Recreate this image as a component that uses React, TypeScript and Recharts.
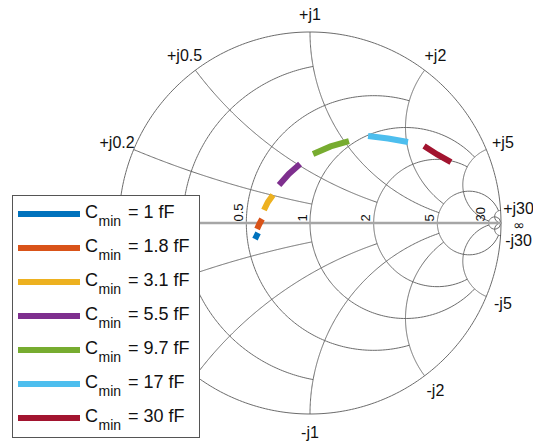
import { ComposedChart, Legend, Line, Scatter, XAxis, YAxis } from "recharts";

// legend values and colours (MATLAB default order)
const C_MIN = ["1", "1.8", "3.1", "5.5", "9.7", "17", "30"];
const COLORS = ["#0072BD", "#D95319", "#EDB120", "#7E2F8E", "#77AC30", "#4DBEEE", "#A2142F"];

// reflection coefficient (Re, Im): start, middle, end
const TRACE_1 = [[-0.288, -0.084], [-0.28, -0.068], [-0.272, -0.052]];
const TRACE_1_8 = [[-0.277, -0.031], [-0.265, -0.005], [-0.251, 0.021]];
const TRACE_3_1 = [[-0.241, 0.068], [-0.221, 0.109], [-0.194, 0.147]];
const TRACE_5_5 = [[-0.162, 0.199], [-0.111, 0.257], [-0.052, 0.309]];
const TRACE_9_7 = [[0.016, 0.361], [0.108, 0.401], [0.204, 0.429]];
const TRACE_17 = [[0.304, 0.455], [0.409, 0.442], [0.513, 0.424]];
const TRACE_30 = [[0.597, 0.403], [0.666, 0.359], [0.738, 0.319]];
const TRACES = [TRACE_1, TRACE_1_8, TRACE_3_1, TRACE_5_5, TRACE_9_7, TRACE_17, TRACE_30];

// smith grid: circle values and the value where each arc stops
const GRID_VALUES = [0.2, 0.5, 1, 2, 5, 30];
const GRID_LIMITS = [1, 2, 5, 5, 30, Infinity];
// labels outside the legend box only (the rest sit under it)
const RES_LABEL_VALUES = [0.5, 1, 2, 5, 30];
const RES_LABELS = ["0.5", "1", "2", "5", "30"];
const REACT_LABEL_VALUES = [0.2, 0.5, 1, 2, 5, 30, -1, -2, -5, -30];
const REACT_LABELS = ["+j0.2", "+j0.5", "+j1", "+j2", "+j5", "+j30", "-j1", "-j2", "-j5", "-j30"];

const FONT = "'Liberation Sans', Arial, Helvetica, sans-serif";
const GRID_COLOR = "#6c6c6c";

const gamma = (r: number, x: number) => {
  const d = (r + 1) ** 2 + x * x;
  return { x: (r * r + x * x - 1) / d, y: (2 * x) / d };
};

function resArc(r: number, lim: number, n = 240) {
  const a = Math.atan(lim);
  const pts = [];
  for (let i = 0; i <= n; i++) pts.push(gamma(r, Math.tan(-a + (2 * a * i) / n)));
  return pts;
}

function reactArc(x: number, lim: number, n = 200) {
  const a = Math.atan(lim);
  const pts = [];
  for (let i = 0; i <= n; i++) pts.push(gamma(Math.tan((a * i) / n), x));
  return pts;
}

const gridArcs = [resArc(0, Infinity, 400)];
GRID_VALUES.forEach((v, i) => {
  gridArcs.push(resArc(v, GRID_LIMITS[i]));
  gridArcs.push(reactArc(v, GRID_LIMITS[i]));
  gridArcs.push(reactArc(-v, GRID_LIMITS[i]));
});
const realAxis = [{ x: -1, y: 0 }, { x: 1, y: 0 }];

const reactLabels = [
  ...REACT_LABEL_VALUES.map((v, i) => ({ ...gamma(0, v), text: REACT_LABELS[i] })),
  { x: 1, y: 0, text: "∞" },
];
const resLabels = RES_LABEL_VALUES.map((v, i) => ({ x: (v - 1) / (v + 1), y: 0, text: RES_LABELS[i] }));

// the three labels crowding the open-circuit point get pulled apart a little
const nudge = (t: string) => (t === "∞" ? 2 : t === "-j30" ? 4 : t === "+j30" ? -1 : 0);

const ReactLabel = (props: any) => {
  const { cx, cy, payload } = props;
  const off = 18;
  const inf = payload.text === "∞";
  return (
    <text
      x={cx + payload.x * off}
      y={cy - payload.y * off + nudge(payload.text)}
      textAnchor="middle"
      dominantBaseline="central"
      fontSize={inf ? 14 : 16}
      fontFamily={inf ? "'DejaVu Sans', sans-serif" : FONT}
      fill="#111"
    >
      {payload.text}
    </text>
  );
};

const ResLabel = (props: any) => {
  const { cx, cy, payload } = props;
  const x = cx - 3.5;
  const y = cy - 1.5;
  return (
    <text x={x} y={y} transform={`rotate(-90 ${x} ${y})`} fontSize={13} fontFamily={FONT} fill="#111">
      {payload.text}
    </text>
  );
};

const LegendBox = () => (
  <svg width={188} height={243} style={{ display: "block" }}>
    <rect x={0.5} y={0.5} width={187} height={242} fill="#fff" stroke="#555" />
    {C_MIN.map((c, i) => (
      <g key={c}>
        <line x1={6} x2={68} y1={19 + 34 * i} y2={19 + 34 * i} stroke={COLORS[i]} strokeWidth={6} />
        <text y={22.5 + 34 * i} fontFamily={FONT} fill="#111" fontSize={18}>
          <tspan x={73}>C</tspan>
          <tspan x={86.5} dy={8.7} fontSize={14}>min</tspan>
          <tspan x={116} dy={-8.7}>= {c} fF</tspan>
        </text>
      </g>
    ))}
  </svg>
);

export default function App() {
  return (
    <div style={{ position: "absolute", left: 0, top: 0, background: "#fff" }}>
      <ComposedChart width={533} height={443} margin={{ top: 32, right: 32, bottom: 29, left: 119 }}>
        <XAxis type="number" dataKey="x" domain={[-1, 1]} hide />
        <YAxis type="number" dataKey="y" domain={[-1, 1]} hide />
        {gridArcs.map((pts, i) => (
          <Line
            key={"g" + i}
            data={pts}
            dataKey="y"
            stroke={GRID_COLOR}
            strokeWidth={1}
            dot={false}
            activeDot={false}
            legendType="none"
            isAnimationActive={false}
          />
        ))}
        <Line
          data={realAxis}
          dataKey="y"
          stroke="#a6a6a6"
          strokeWidth={2.5}
          dot={false}
          activeDot={false}
          legendType="none"
          isAnimationActive={false}
        />
        {TRACES.map((t, i) => (
          <Line
            key={"t" + i}
            name={`Cmin = ${C_MIN[i]} fF`}
            data={t.map(([x, y]) => ({ x, y }))}
            dataKey="y"
            stroke={COLORS[i]}
            strokeWidth={6}
            dot={false}
            activeDot={false}
            isAnimationActive={false}
          />
        ))}
        <Scatter data={resLabels} shape={ResLabel} legendType="none" isAnimationActive={false} />
        <Scatter data={reactLabels} shape={ReactLabel} legendType="none" isAnimationActive={false} />
        <Legend
          layout="horizontal"
          verticalAlign="middle"
          content={() => <LegendBox />}
          wrapperStyle={{ left: 12, top: 195, width: 188, height: 243 }}
        />
      </ComposedChart>
    </div>
  );
}
